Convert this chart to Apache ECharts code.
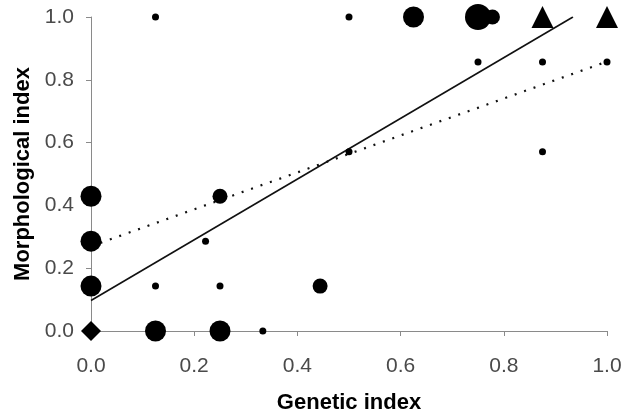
<!DOCTYPE html>
<html><head><meta charset="utf-8">
<script src="https://cdn.jsdelivr.net/npm/echarts@6/dist/echarts.min.js"></script>
<style>html,body{margin:0;padding:0;background:#fff}#c{width:626px;height:415px}</style>
</head><body><div id="c"></div>
<script>
// Data (Genetic index, Morphological index)
const smallPts = [[0.125,1.0],[0.5,1.0],[0.75,0.857],[0.875,0.857],[1.0,0.857],[0.5,0.571],[0.875,0.571],[0.222,0.286],[0.125,0.143],[0.25,0.143],[0.333,0.0]];
const mediumPts = [[0.25,0.429],[0.444,0.143],[0.778,1.0]];
const largePts = [[0.625,1.0],[0.0,0.429],[0.0,0.286],[0.0,0.143],[0.125,0.0],[0.25,0.0]];
const xlargePts = [[0.75,1.0]];
const trianglePts = [[0.875,1.0],[1.0,1.0]];
const diamondPts = [[0.0,0.0]];
const solidFit = [[0.0,0.097],[0.934,1.0]];
const dottedFit = [[0.0,0.27],[1.0,0.858]];
const xTicks = [0,0.2,0.4,0.6,0.8,1.0];
const yTicks = [0,0.2,0.4,0.6,0.8,1.0];

const chart = echarts.init(document.getElementById('c'));
const font = 'Liberation Sans, Arial, sans-serif';
const axisCommon = {
  min: 0, max: 1, interval: 0.2,
  axisLine: {show: true, lineStyle: {color: '#8a8a8a', width: 1}},
  axisTick: {show: true, length: 5, lineStyle: {color: '#8a8a8a'}},
  splitLine: {show: false},
  axisLabel: {color: '#4a4a4a', fontSize: 21, fontFamily: font, formatter: v => v.toFixed(1)},
  nameLocation: 'middle',
  nameTextStyle: {color: '#000', fontSize: 22, fontWeight: 'bold', fontFamily: font}
};
function sc(data, size, symbol) {
  return {type: 'scatter', data: data, symbol: symbol || 'circle', symbolSize: size,
    itemStyle: {color: '#000', opacity: 1}, silent: true, z: 3};
}
chart.setOption({
  animation: false,
  grid: {left: 91, right: 19, top: 17, bottom: 84, containLabel: false, outerBoundsMode: 'none'},
  xAxis: Object.assign({}, axisCommon, {type: 'value', name: 'Genetic index', nameGap: 61,
    axisLabel: Object.assign({}, axisCommon.axisLabel, {margin: 25})}),
  yAxis: Object.assign({}, axisCommon, {type: 'value', name: 'Morphological index', nameGap: 57,
    axisLabel: Object.assign({}, axisCommon.axisLabel, {margin: 17})}),
  series: [
    {type: 'line', data: solidFit, symbol: 'none', lineStyle: {color: '#111', width: 1.6, type: 'solid'}, silent: true, z: 2},
    {type: 'line', data: dottedFit, symbol: 'none', lineStyle: {color: '#111', width: 2.2, type: [2, 8]}, silent: true, z: 2},
    sc(smallPts, 7),
    sc(mediumPts, 15),
    sc(largePts, 21),
    sc(xlargePts, 26),
    sc(trianglePts, 22, 'triangle'),
    sc(diamondPts, 20, 'diamond')
  ]
});
</script></body></html>
